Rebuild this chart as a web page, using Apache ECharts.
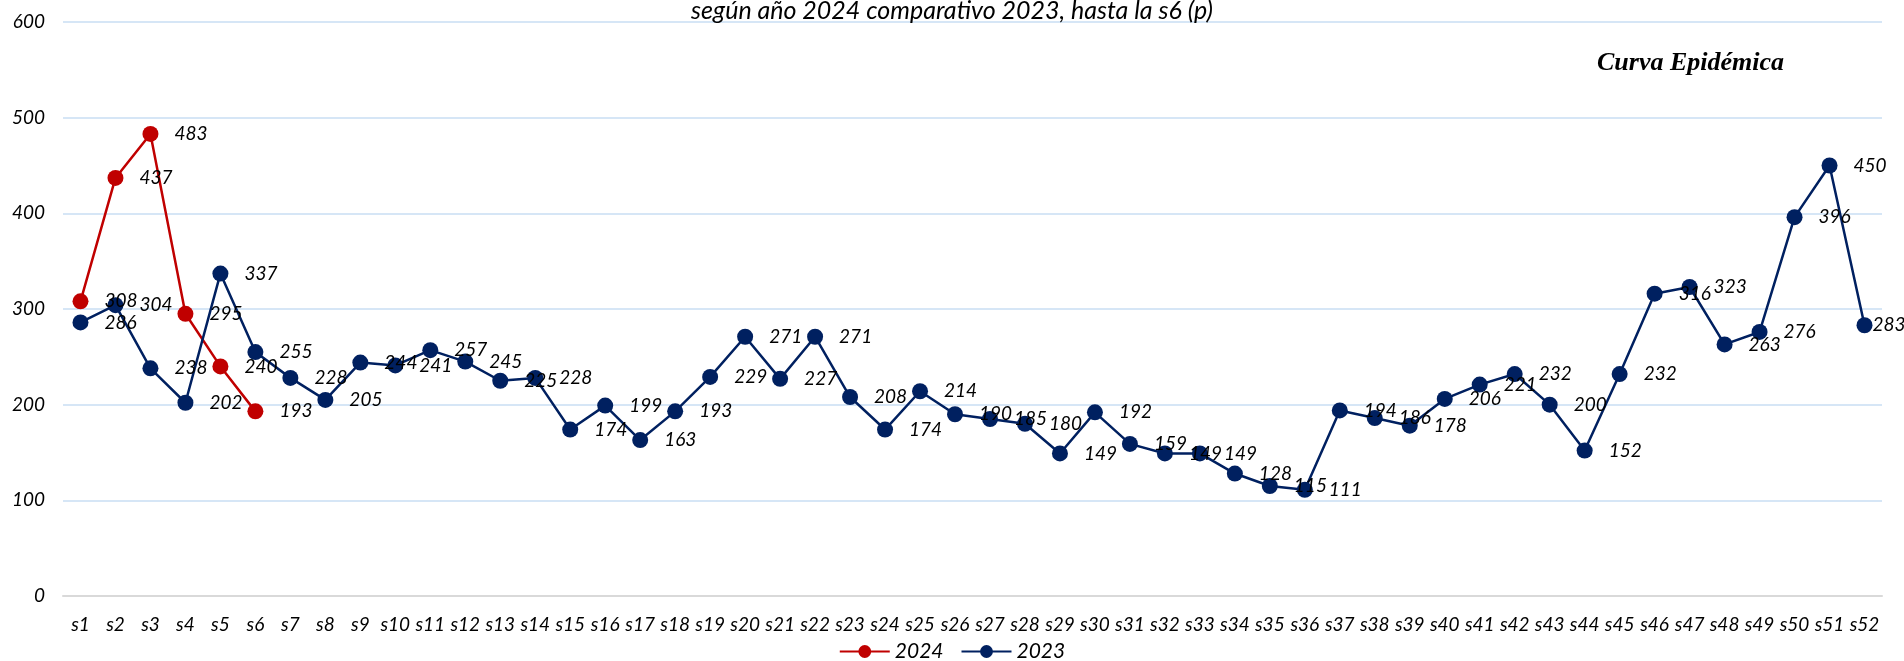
<!DOCTYPE html>
<html>
<head>
<meta charset="utf-8">
<title>Curva Epidémica</title>
<script src="https://cdn.jsdelivr.net/npm/echarts@6/dist/echarts.min.js"></script>
<style>
  html, body {
    margin: 0;
    padding: 0;
    background: #fff;
  }
  #main {
    width: 1904px;
    height: 661px;
  }
</style>
</head>
<body>
<div id="main"></div>
<script>
  // semanas epidemiologicas
  var semanas = [];
  for (var i = 1; i <= 52; i++) {
    semanas.push('s' + i);
  }

  // casos 2024 (hasta la s6)
  var casos2024 = [308, 437, 483, 295, 240, 193];

  // casos 2023
  var casos2023 = [286, 304, 238, 202, 337, 255, 228, 205, 244, 241,
    257, 245, 225, 228, 174, 199, 163, 193, 229, 271,
    227, 271, 208, 174, 214, 190, 185, 180, 149, 192,
    159, 149, 149, 128, 115, 111, 194, 186, 178, 206,
    221, 232, 200, 152, 232, 316, 323, 263, 276, 396,
    450, 283];

  var yTicks = [0, 100, 200, 300, 400, 500, 600];

  var fuente = 'Lato';

  var myChart = echarts.init(document.getElementById('main'));

  var labelRight = {
    show: true,
    position: 'right',
    distance: 16,
    color: '#000',
    fontStyle: 'italic',
    fontFamily: fuente,
    fontSize: 19
  };

  // la ultima etiqueta va pegada al punto (como en el original)
  var datos2023 = casos2023.map(function (v, idx) {
    if (idx === casos2023.length - 1) {
      return { value: v, label: { distance: 0 } };
    }
    return v;
  });

  var option = {
    animation: false,
    backgroundColor: '#fff',
    title: [{
      text: 'según año 2024 comparativo 2023, hasta la s6 (p)',
      left: 'center',
      top: -7,
      textStyle: {
        color: '#000',
        fontStyle: 'italic',
        fontWeight: 'normal',
        fontFamily: fuente,
        fontSize: 25
      }
    }, {
      text: 'Curva Epidémica',
      left: 1592,
      top: 45,
      textStyle: {
        color: '#000',
        fontStyle: 'italic',
        fontWeight: 'bold',
        fontFamily: 'Liberation Serif',
        fontSize: 26
      }
    }],
    legend: {
      bottom: -6,
      left: 'center',
      itemWidth: 50,
      itemHeight: 16,
      itemGap: 17,
      data: ['2024', '2023'],
      textStyle: {
        color: '#000',
        fontStyle: 'italic',
        fontFamily: fuente,
        fontSize: 21
      }
    },
    grid: {
      left: 63,
      right: 22,
      top: 22,
      bottom: 65
    },
    xAxis: {
      type: 'category',
      data: semanas,
      boundaryGap: true,
      axisLine: {
        show: true,
        lineStyle: {
          color: '#d9d9d9',
          width: 2
        }
      },
      axisTick: {
        show: false
      },
      axisLabel: {
        interval: 0,
        margin: 19,
        color: '#000',
        fontStyle: 'italic',
        fontFamily: fuente,
        fontSize: 19
      }
    },
    yAxis: {
      type: 'value',
      min: yTicks[0],
      max: yTicks[yTicks.length - 1],
      interval: 100,
      axisLine: {
        show: false
      },
      axisTick: {
        show: false
      },
      axisLabel: {
        margin: 18,
        color: '#000',
        fontStyle: 'italic',
        fontFamily: fuente,
        fontSize: 19
      },
      splitLine: {
        show: true,
        lineStyle: {
          color: '#d6e6f6',
          width: 2
        }
      }
    },
    series: [{
      name: '2024',
      type: 'line',
      data: casos2024,
      symbol: 'circle',
      symbolSize: 16,
      color: '#c00000',
      lineStyle: {
        color: '#c00000',
        width: 2.5
      },
      itemStyle: {
        color: '#c00000'
      },
      label: labelRight
    }, {
      name: '2023',
      type: 'line',
      data: datos2023,
      symbol: 'circle',
      symbolSize: 16,
      color: '#002060',
      lineStyle: {
        color: '#002060',
        width: 2.5
      },
      itemStyle: {
        color: '#002060'
      },
      label: labelRight
    }]
  };

  myChart.setOption(option);
  window.onresize = function () {
    myChart.resize();
  }
</script>
</body>
</html>
